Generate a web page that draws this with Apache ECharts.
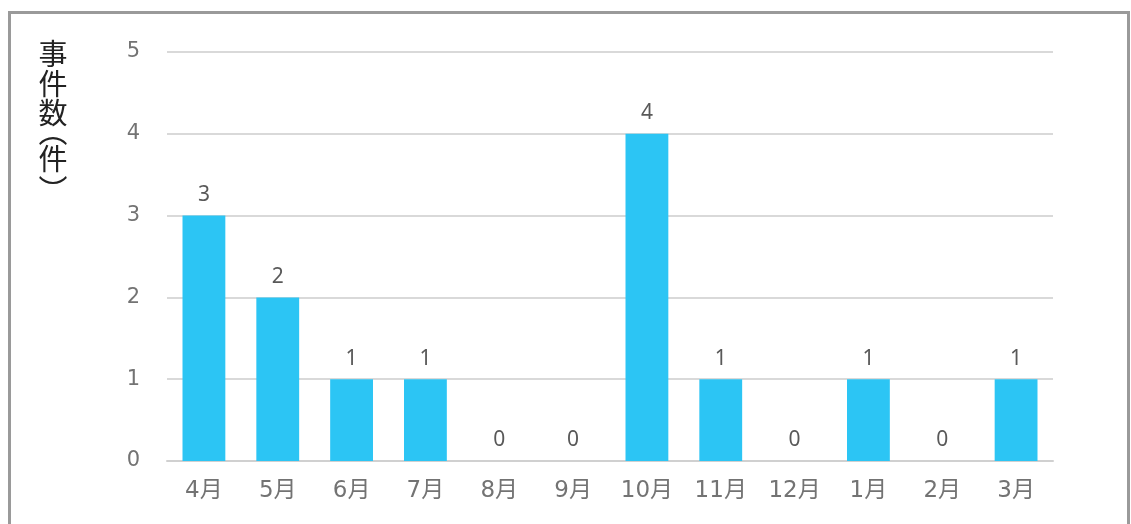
<!DOCTYPE html>
<html>
<head>
<meta charset="utf-8">
<script src="https://cdn.jsdelivr.net/npm/echarts@6/dist/echarts.min.js"></script>
<style>
  html, body { margin: 0; padding: 0; background: #fff; }
  #frame { position: absolute; left: 8px; top: 11px; width: 1122px; height: 540px; border: 3px solid #9a9a9a; box-sizing: border-box; }
  #chart { position: absolute; left: 0; top: 0; width: 1131px; height: 524px; }
</style>
</head>
<body>
<div id="frame"></div>
<div id="chart"></div>
<script>
const months = ["4月", "5月", "6月", "7月", "8月", "9月", "10月", "11月", "12月", "1月", "2月", "3月"];
const counts = [3, 2, 1, 1, 0, 0, 4, 1, 0, 1, 0, 1];
const yTicks = [0, 1, 2, 3, 4, 5];
const yName = ["事", "件", "数", "︵", "件", "︶"];
// vertical centre of each character of the axis name
const yNameCenters = [54, 84, 113, 132, 159, 190];

const myChart = echarts.init(document.getElementById("chart"));

const option = {
  animation: false,
  textStyle: { fontFamily: "'Noto Sans CJK JP', 'Noto Sans', sans-serif" },
  grid: { left: 167, right: 78, top: 52, bottom: 63 },
  graphic: yName.map(function (ch, i) {
    return {
      type: "text",
      x: 53,
      y: yNameCenters[i],
      style: {
        text: ch,
        font: "29px 'Noto Sans CJK JP'",
        fill: "#222",
        align: "center",
        verticalAlign: "middle"
      }
    };
  }),
  xAxis: {
    type: "category",
    data: months,
    axisLine: { show: true, lineStyle: { color: "#d0d0d0", width: 2 } },
    axisTick: { show: false },
    axisLabel: {
      color: "#737373",
      fontSize: 23,
      fontFamily: "'DejaVu Sans', 'Noto Sans CJK JP', sans-serif",
      margin: 19
    }
  },
  yAxis: {
    type: "value",
    min: yTicks[0],
    max: yTicks[yTicks.length - 1],
    interval: 1,
    axisLine: { show: false },
    axisTick: { show: false },
    splitLine: { lineStyle: { color: "#d9d9d9", width: 2 } },
    axisLabel: {
      color: "#737373",
      fontSize: 21,
      fontFamily: "'DejaVu Sans', sans-serif",
      margin: 27
    }
  },
  series: [
    {
      type: "bar",
      data: counts,
      barWidth: "58%",
      itemStyle: { color: "#2cc5f4" },
      label: {
        show: true,
        position: "top",
        distance: 10,
        color: "#595959",
        fontSize: 21,
        fontFamily: "'Noto Sans', sans-serif"
      }
    }
  ]
};

myChart.setOption(option);
</script>
</body>
</html>
